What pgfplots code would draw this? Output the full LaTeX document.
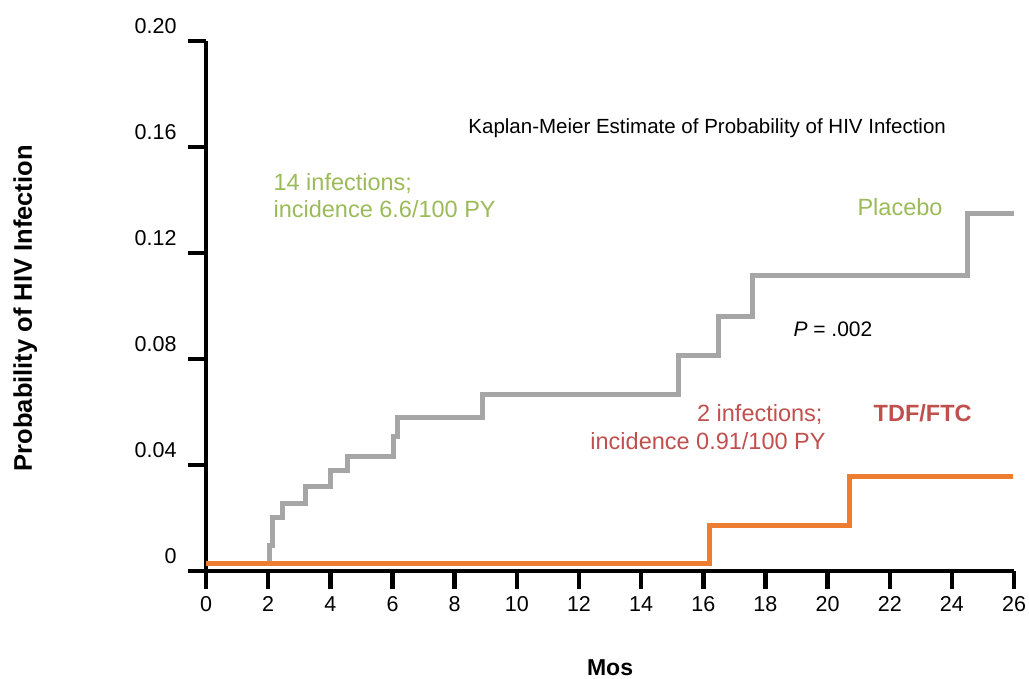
\documentclass[border=0pt]{standalone}
\usepackage{fontspec}
\setmainfont{Liberation Sans}
\usepackage{pgfplots}
\pgfplotsset{compat=1.18}
\definecolor{kmgray}{HTML}{A6A6A6}
\definecolor{kmorange}{HTML}{ED7D31}
\definecolor{kmgreen}{HTML}{9BBB59}
\definecolor{kmred}{HTML}{C0504D}
\begin{document}
\begin{tikzpicture}
\begin{axis}[
  scale only axis, width=808pt, height=530pt,
  xmin=0, xmax=26, ymin=0, ymax=0.2,
  axis x line*=bottom, axis y line*=left,
  axis line style={line width=4.5pt, black},
  xtick={0,2,...,26},
  ytick={0,0.04,0.08,0.12,0.16,0.20},
  yticklabels={0,0.04,0.08,0.12,0.16,0.20},
  tick align=outside, major tick length=18pt,
  tick style={line width=4.5pt, black},
  tick label style={font=\fontsize{21.5}{24}\selectfont},
  xticklabel style={yshift=-4pt},
  yticklabel style={xshift=-8pt, yshift=15pt},
  /pgf/number format/assume math mode=true,
  clip=false,
]
\addplot[const plot, kmgray, line width=5pt] coordinates {
  (0,0.003) (2.03,0.0098) (2.15,0.0204) (2.45,0.0257) (3.19,0.0321)
  (3.99,0.0381) (4.54,0.0434) (6.02,0.0509) (6.15,0.0581) (8.91,0.0668)
  (15.19,0.0815) (16.48,0.0962) (17.57,0.1117) (24.49,0.1351) (26,0.1351)};
\addplot[const plot, kmorange, line width=5pt] coordinates {
  (0,0.003) (16.19,0.0171) (20.69,0.0358) (25.97,0.0358)};

\node[anchor=base west, font=\fontsize{20.5}{24}\selectfont] at (axis cs:8.33,0.1653) {Kaplan-Meier Estimate of Probability of HIV Infection};
\node[anchor=base west, text=kmgreen, font=\fontsize{23.5}{27}\selectfont] at (axis cs:2.06,0.1438) {14 infections;};
\node[anchor=base west, text=kmgreen, font=\fontsize{23.5}{27}\selectfont] at (axis cs:2.06,0.1336) {incidence 6.6/100 PY};
\node[anchor=base west, text=kmgreen, font=\fontsize{23.5}{27}\selectfont] at (axis cs:20.85,0.1343) {Placebo};
\node[anchor=base west, font=\fontsize{21}{24}\selectfont] at (axis cs:18.79,0.0887) {\textit{P} = .002};
\node[anchor=base east, text=kmred, font=\fontsize{23.5}{27}\selectfont] at (axis cs:19.95,0.0566) {2 infections;};
\node[anchor=base east, text=kmred, font=\fontsize{23.5}{27}\selectfont] at (axis cs:20.05,0.0460) {incidence 0.91/100 PY};
\node[anchor=base west, text=kmred, font=\bfseries\fontsize{23.5}{27}\selectfont] at (axis cs:21.37,0.0566) {TDF/FTC};
\node[anchor=base, font=\bfseries\fontsize{23}{27}\selectfont] at (axis cs:13.0,-0.0392) {Mos};
\node[anchor=base, rotate=90, font=\bfseries\fontsize{25.5}{28}\selectfont] at (axis cs:-5.60,0.0992) {Probability of HIV Infection};

\coordinate (bbl) at (axis cs:-6.629,-0.0404);
\coordinate (btr) at (axis cs:26.48,0.2155);
\end{axis}
\pgfresetboundingbox
\path[use as bounding box] (bbl) rectangle (btr);
\end{tikzpicture}
\end{document}
